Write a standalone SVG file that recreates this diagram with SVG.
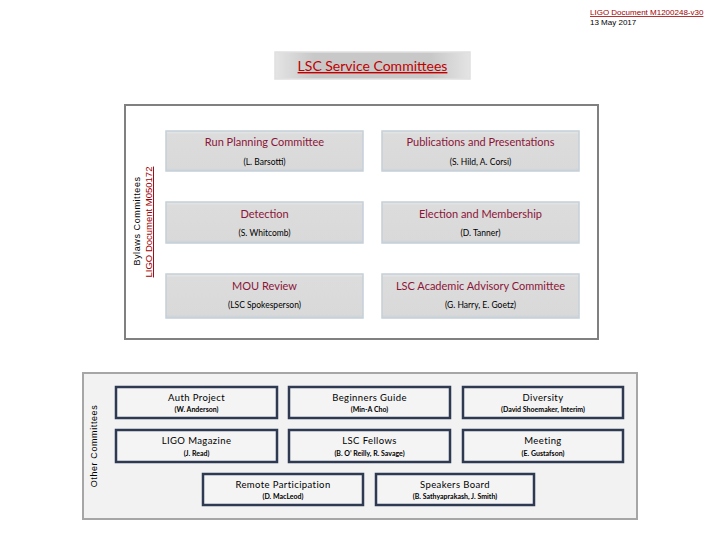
<svg xmlns="http://www.w3.org/2000/svg" width="720" height="540" viewBox="0 0 720 540">
<defs>
<linearGradient id="gBox" x1="0" y1="0" x2="0" y2="1">
<stop offset="0" stop-color="#e6e8ea"/>
<stop offset="0.08" stop-color="#dcdcdc"/>
<stop offset="0.92" stop-color="#d9d9d9"/>
<stop offset="1" stop-color="#c9d2d9"/>
</linearGradient>
<linearGradient id="gTitle" x1="0" y1="0" x2="1" y2="0">
<stop offset="0" stop-color="#e4e4e4"/>
<stop offset="0.2" stop-color="#c8c8c8"/>
<stop offset="0.8" stop-color="#c8c8c8"/>
<stop offset="1" stop-color="#e4e4e4"/>
</linearGradient>
<style>
.up{fill:url(#gBox);stroke:#c5d0d8;stroke-width:1.5}
.ut{font-family:Lato,"Open Sans",sans-serif;font-size:11px;fill:#8b1538;text-anchor:middle}
.us{font-family:Lato,"Open Sans",sans-serif;font-size:8.5px;fill:#000;text-anchor:middle}
.lo{fill:#f4f4f4;stroke:#2e3a52;stroke-width:2.5}
.lt{font-family:Lato,"Open Sans",sans-serif;font-size:9.5px;fill:#000;text-anchor:middle;letter-spacing:0.4px}
.ls{font-family:Lato,"Open Sans",sans-serif;font-size:7px;font-weight:bold;fill:#000;text-anchor:middle}
.hd{font-family:"Liberation Sans",Arial,sans-serif;font-size:8px}
</style>
</defs>
<rect width="720" height="540" fill="#ffffff"/>
<g id="header">
<text class="hd" x="590" y="15" fill="#a00000" text-decoration="underline">LIGO Document M1200248-v30</text>
<text class="hd" x="590" y="25" fill="#000">13 May 2017</text>
</g>
<g id="title">
<rect x="275" y="52" width="195" height="27" fill="url(#gTitle)" stroke="#e0e0e0" stroke-width="1.5"/>
<text x="372.5" y="71" font-family="Lato,'Open Sans',sans-serif" font-size="14" fill="#c00000" text-anchor="middle" text-decoration="underline">LSC Service Committees</text>
</g>
<g id="bylaws-frame">
<rect x="125" y="105" width="473" height="234" fill="#ffffff" stroke="#808080" stroke-width="2"/>
<text transform="translate(140,221) rotate(-90)" font-family="'Liberation Sans',Arial,sans-serif" font-size="9" fill="#000" text-anchor="middle" letter-spacing="0.6">Bylaws Committees</text>
<text transform="translate(152,222) rotate(-90)" font-family="'Liberation Sans',Arial,sans-serif" font-size="9.5" fill="#a00000" text-anchor="middle" text-decoration="underline">LIGO Document M050172</text>
</g>
<g id="run-planning">
<rect class="up" x="166" y="131" width="197" height="40"/>
<text class="ut" x="264.5" y="146">Run Planning Committee</text>
<text class="us" x="264.5" y="165">(L. Barsotti)</text>
</g>
<g id="publications">
<rect class="up" x="382" y="131" width="197" height="40"/>
<text class="ut" x="480.5" y="146">Publications and Presentations</text>
<text class="us" x="480.5" y="165">(S. Hild, A. Corsi)</text>
</g>
<g id="detection">
<rect class="up" x="166" y="202" width="197" height="41"/>
<text class="ut" x="264.5" y="218">Detection</text>
<text class="us" x="264.5" y="236">(S. Whitcomb)</text>
</g>
<g id="election">
<rect class="up" x="382" y="202" width="197" height="41"/>
<text class="ut" x="480.5" y="218">Election and Membership</text>
<text class="us" x="480.5" y="236">(D. Tanner)</text>
</g>
<g id="mou">
<rect class="up" x="166" y="274" width="197" height="44"/>
<text class="ut" x="264.5" y="290">MOU Review</text>
<text class="us" x="264.5" y="308">(LSC Spokesperson)</text>
</g>
<g id="academic">
<rect class="up" x="382" y="274" width="197" height="44"/>
<text class="ut" x="480.5" y="290">LSC Academic Advisory Committee</text>
<text class="us" x="480.5" y="308">(G. Harry, E. Goetz)</text>
</g>
<g id="other-frame">
<rect x="83" y="373" width="554" height="146" fill="#f2f2f2" stroke="#a6a6a6" stroke-width="2"/>
<text transform="translate(97,446) rotate(-90)" font-family="'Liberation Sans',Arial,sans-serif" font-size="9" fill="#000" text-anchor="middle" letter-spacing="0.6">Other Committees</text>
</g>
<g id="auth">
<rect class="lo" x="116" y="387" width="161" height="31"/>
<text class="lt" x="196.5" y="401">Auth Project</text>
<text class="ls" x="196.5" y="412">(W. Anderson)</text>
</g>
<g id="beginners">
<rect class="lo" x="289" y="387" width="161" height="31"/>
<text class="lt" x="369.5" y="401">Beginners Guide</text>
<text class="ls" x="369.5" y="412">(Min-A Cho)</text>
</g>
<g id="diversity">
<rect class="lo" x="463" y="387" width="160" height="31"/>
<text class="lt" x="543" y="401">Diversity</text>
<text class="ls" x="543" y="412">(David Shoemaker, Interim)</text>
</g>
<g id="magazine">
<rect class="lo" x="116" y="430" width="161" height="32"/>
<text class="lt" x="196.5" y="444">LIGO Magazine</text>
<text class="ls" x="196.5" y="456">(J. Read)</text>
</g>
<g id="fellows">
<rect class="lo" x="289" y="430" width="161" height="32"/>
<text class="lt" x="369.5" y="444">LSC Fellows</text>
<text class="ls" x="369.5" y="456">(B. O’ Reilly, R. Savage)</text>
</g>
<g id="meeting">
<rect class="lo" x="463" y="430" width="160" height="32"/>
<text class="lt" x="543" y="444">Meeting</text>
<text class="ls" x="543" y="456">(E. Gustafson)</text>
</g>
<g id="remote">
<rect class="lo" x="203" y="474" width="160" height="31"/>
<text class="lt" x="283" y="488">Remote Participation</text>
<text class="ls" x="283" y="499">(D. MacLeod)</text>
</g>
<g id="speakers">
<rect class="lo" x="376" y="474" width="158" height="31"/>
<text class="lt" x="455" y="488">Speakers Board</text>
<text class="ls" x="455" y="499">(B. Sathyaprakash, J. Smith)</text>
</g>
<g id="connectors"></g>
</svg>
